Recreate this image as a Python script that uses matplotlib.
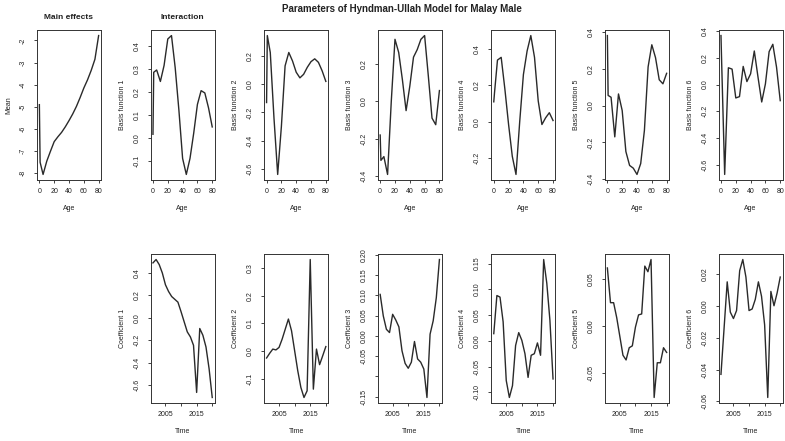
import matplotlib
matplotlib.use("Agg")
import matplotlib.pyplot as plt

plt.rcParams["font.family"] = ["Liberation Sans", "DejaVu Sans"]
plt.rcParams["axes.unicode_minus"] = False

# ---- data -------------------------------------------------------------
ages = [0, 1, 5, 10, 15, 20, 25, 30, 35, 40, 45, 50, 55, 60, 65, 70, 75, 80]
years = list(range(2001, 2021))

mean_effect = [-4.9, -7.5, -8.05, -7.45, -7.0, -6.57, -6.35, -6.15, -5.9,
               -5.62, -5.32, -4.98, -4.58, -4.15, -3.78, -3.35, -2.85, -1.78]

basis_1 = [0.015, 0.285, 0.295, 0.245, 0.315, 0.43, 0.445, 0.305, 0.12,
           -0.09, -0.16, -0.09, 0.02, 0.145, 0.205, 0.195, 0.13, 0.047]
basis_2 = [-0.13, 0.345, 0.225, -0.24, -0.64, -0.3, 0.13, 0.225, 0.165,
           0.085, 0.045, 0.07, 0.12, 0.16, 0.18, 0.155, 0.095, 0.02]
basis_3 = [-0.18, -0.315, -0.295, -0.39, 0.0, 0.33, 0.26, 0.115, -0.05,
           0.08, 0.235, 0.275, 0.33, 0.35, 0.135, -0.09, -0.125, 0.057]
basis_4 = [0.11, 0.16, 0.34, 0.355, 0.18, -0.015, -0.19, -0.29, 0.0,
           0.26, 0.39, 0.475, 0.355, 0.115, -0.015, 0.022, 0.05, 0.007]
basis_5 = [0.38, 0.055, 0.045, -0.17, 0.063, -0.027, -0.25, -0.325, -0.34,
           -0.374, -0.315, -0.135, 0.21, 0.33, 0.26, 0.14, 0.118, 0.175]
basis_6 = [0.365, 0.15, -0.67, 0.125, 0.115, -0.1, -0.09, 0.135, 0.022,
           0.08, 0.25, 0.055, -0.13, 0.005, 0.245, 0.3, 0.13, -0.12]

coef_1 = [0.49, 0.52, 0.475, 0.4, 0.295, 0.235, 0.19, 0.165, 0.14, 0.055,
          -0.035, -0.125, -0.17, -0.245, -0.665, -0.095, -0.155, -0.26,
          -0.455, -0.71]
coef_2 = [-0.024, -0.007, 0.008, 0.005, 0.014, 0.044, 0.08, 0.116, 0.074,
          0.002, -0.07, -0.13, -0.166, -0.142, 0.33, -0.136, 0.008, -0.048,
          -0.016, 0.017]
coef_3 = [0.102, 0.049, 0.016, 0.008, 0.053, 0.039, 0.022, -0.037, -0.068,
          -0.08, -0.065, -0.014, -0.057, -0.065, -0.082, -0.152, 0.004,
          0.037, 0.094, 0.188]
coef_4 = [0.014, 0.088, 0.085, 0.037, -0.077, -0.11, -0.087, -0.009, 0.016,
          0.001, -0.025, -0.071, -0.028, -0.025, -0.004, -0.028, 0.158,
          0.112, 0.04, -0.074]
coef_5 = [0.062, 0.025, 0.025, 0.009, -0.011, -0.031, -0.036, -0.023,
          -0.021, -0.001, 0.012, 0.013, 0.064, 0.058, 0.071, -0.076, -0.039,
          -0.039, -0.023, -0.028]
coef_6 = [-0.043, -0.014, 0.015, -0.004, -0.008, -0.003, 0.022, 0.029,
          0.018, -0.003, -0.002, 0.004, 0.015, 0.006, -0.012, -0.0575,
          0.009, 0.0, 0.008, 0.018]

# ---- axis ticks -------------------------------------------------------
age_ticks = [0, 20, 40, 60, 80]
year_ticks = [2005, 2010, 2015, 2020]
year_labels = ["2005", "", "2015", ""]

mean_yticks = [-8, -7, -6, -5, -4, -3, -2]
basis_yticks = [
    [-0.1, 0.0, 0.1, 0.2, 0.3, 0.4],
    [-0.6, -0.4, -0.2, 0.0, 0.2],
    [-0.4, -0.2, 0.0, 0.2],
    [-0.2, 0.0, 0.2, 0.4],
    [-0.4, -0.2, 0.0, 0.2, 0.4],
    [-0.6, -0.4, -0.2, 0.0, 0.2, 0.4],
]
coef_yticks = [
    [-0.6, -0.4, -0.2, 0.0, 0.2, 0.4],
    [-0.1, 0.0, 0.1, 0.2, 0.3],
    [-0.15, -0.10, -0.05, 0.0, 0.05, 0.10, 0.15, 0.20],
    [-0.10, -0.05, 0.0, 0.05, 0.10, 0.15],
    [-0.05, 0.0, 0.05],
    [-0.06, -0.04, -0.02, 0.0, 0.02],
]
coef_yticklabels = [
    ["-0.6", "-0.4", "-0.2", "0.0", "0.2", "0.4"],
    ["-0.1", "0.0", "0.1", "0.2", "0.3"],
    ["-0.15", "", "-0.05", "0.00", "0.05", "0.10", "0.15", "0.20"],
    ["-0.10", "-0.05", "0.00", "0.05", "0.10", "0.15"],
    ["-0.05", "0.00", "0.05"],
    ["-0.06", "-0.04", "-0.02", "0.00", "0.02"],
]

# ---- layout -----------------------------------------------------------
W, H = 785, 441
fig = plt.figure(figsize=(W / 100, H / 100), dpi=100)

LINE = "#2a2a2a"
TXT = "#222222"
col_left = [37 + 113.6 * i for i in range(7)]
panel_w = 64
row_top = [30, 254]
row_h = [150, 149]


def padded(vals):
    lo, hi = min(vals), max(vals)
    d = (hi - lo) * 0.04
    return lo - d, hi + d


def panel(col, row, x, y, xticks, xlabels, yticks, ylabels, xlab, ylab):
    left, top, h = col_left[col], row_top[row], row_h[row]
    ax = fig.add_axes([left / W, 1 - (top + h) / H, panel_w / W, h / H])
    ax.plot(x, y, color=LINE, lw=1.0, solid_joinstyle="round")
    ax.set_xlim(*padded(x))
    ax.set_ylim(*padded(y))
    ax.set_xticks(xticks)
    ax.set_xticklabels(xlabels)
    ax.set_yticks(yticks)
    ax.set_yticklabels(ylabels, rotation=90, va="center")
    ax.tick_params(axis="both", direction="out", length=2.4, width=0.6,
                   colors=TXT, labelsize=5)
    ax.tick_params(axis="x", pad=3.6)
    ax.tick_params(axis="y", pad=5.0)
    for s in ax.spines.values():
        s.set_linewidth(0.7)
        s.set_color("#333333")
    ax.set_xlabel(xlab, fontsize=5, color=TXT)
    ax.set_ylabel(ylab, fontsize=5, color=TXT)
    ax.xaxis.set_label_coords(0.5, -25 / h)
    ax.yaxis.set_label_coords(-25 / panel_w, 0.5)
    return ax


age_labels = [str(a) for a in age_ticks]

ax0 = panel(0, 0, ages, mean_effect, age_ticks, age_labels, mean_yticks,
            [str(v) for v in mean_yticks], "Age", "Mean")
ax0.set_title("Main effects", fontsize=6, fontweight="bold", color=TXT,
              pad=8)

basis = [basis_1, basis_2, basis_3, basis_4, basis_5, basis_6]
coefs = [coef_1, coef_2, coef_3, coef_4, coef_5, coef_6]

for i in range(6):
    ax = panel(i + 1, 0, ages, basis[i], age_ticks, age_labels,
               basis_yticks[i], ["%.1f" % v for v in basis_yticks[i]],
               "Age", "Basis function %d" % (i + 1))
    if i == 0:
        ax.set_title("Interaction", fontsize=6, fontweight="bold",
                     color=TXT, pad=8)
    panel(i + 1, 1, years, coefs[i], year_ticks, year_labels,
          coef_yticks[i], coef_yticklabels[i], "Time",
          "Coefficient %d" % (i + 1))

fig.text(402 / W, 1 - 9 / H, "Parameters of Hyndman-Ullah Model for Malay Male",
         ha="center", va="center", fontsize=7, fontweight="bold", color=TXT)

fig.savefig("out.png", dpi=100, facecolor="white")
